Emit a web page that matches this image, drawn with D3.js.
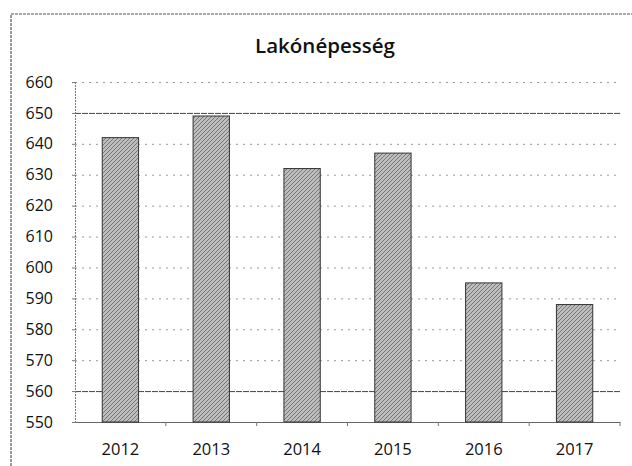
<!DOCTYPE html>
<html>
<head>
<meta charset="utf-8">
<script src="https://cdn.jsdelivr.net/npm/d3@7"></script>
<style>
  body { margin: 0; background: #fff; }
  svg { display: block; }
</style>
</head>
<body>
<div id="chart"></div>
<script>
"use strict";

// data ************************************************************
var years = ["2012", "2013", "2014", "2015", "2016", "2017"];
var population = [642, 649, 632, 637, 595, 588];
var yTicks = [550, 560, 570, 580, 590, 600, 610, 620, 630, 640, 650, 660];
var chartTitle = "Lakónépesség";

// sizes ************************************************************
var width = 632, height = 466;
var plot = { left: 75, right: 620, top: 82, bottom: 422 };
var font = "'Open Sans', 'DejaVu Sans', sans-serif";

var svg = d3.select("#chart").append("svg")
  .attr("width", width)
  .attr("height", height);

// grainy fill like the scanned bars
var defs = svg.append("defs");
var pat = defs.append("pattern")
  .attr("id", "grain")
  .attr("width", 4).attr("height", 4)
  .attr("patternUnits", "userSpaceOnUse");
pat.append("rect").attr("width", 4).attr("height", 4).attr("fill", "#bdbdbd");
pat.append("path").attr("d", "M0,4 L4,0 M-1,1 L1,-1 M3,5 L5,3")
  .attr("stroke", "#777").attr("stroke-width", 1);

// outer frame (only top + left survive the scan)
svg.append("path")
  .attr("d", "M11," + height + " L11,14 L" + width + ",14")
  .attr("fill", "none")
  .attr("stroke", "#555")
  .attr("stroke-width", 1.2)
  .attr("stroke-dasharray", "3,1");

// scales ************************************************************
var x = d3.scaleBand()
  .domain(years)
  .range([plot.left, plot.right])
  .paddingInner(0.6)
  .paddingOuter(0.3);

var y = d3.scaleLinear()
  .domain([550, 660])
  .range([plot.bottom, plot.top]);

// gridlines ************************************************************
svg.append("g")
  .selectAll("line")
  .data(yTicks.filter(function(d) { return d > 550; }))
  .enter()
  .append("line")
  .attr("x1", plot.left)
  .attr("x2", plot.right)
  .attr("y1", function(d) { return y(d) + 0.5; })
  .attr("y2", function(d) { return y(d) + 0.5; })
  .attr("stroke", function(d) { return (d === 650 || d === 560) ? "#444" : "#999"; })
  .attr("stroke-width", 1)
  .attr("stroke-dasharray", function(d) { return (d === 650 || d === 560) ? "6,1" : "2,5"; });

// y axis ************************************************************
var yAxis = svg.append("g")
  .attr("transform", "translate(" + plot.left + ",0)")
  .call(d3.axisLeft(y).tickValues(yTicks).tickSize(3).tickPadding(19));

yAxis.select(".domain").attr("stroke", "#777").attr("stroke-dasharray", "2,1");
yAxis.selectAll(".tick line").attr("stroke", "#777");
yAxis.selectAll("text")
  .attr("font-family", font)
  .attr("font-size", "16px")
  .attr("fill", "#111");

// x axis ************************************************************
var xAxis = svg.append("g")
  .attr("transform", "translate(0," + plot.bottom + ")")
  .call(d3.axisBottom(x).tickSize(0).tickPadding(21));

xAxis.select(".domain").attr("stroke", "#666");
xAxis.selectAll("text")
  .attr("font-family", font)
  .attr("font-size", "16.5px")
  .attr("fill", "#111");

// category separators under the axis
var step = x.step();
svg.append("g")
  .selectAll("line")
  .data(years)
  .enter()
  .append("line")
  .attr("x1", function(d) { return x(d) + x.bandwidth() / 2 + step / 2; })
  .attr("x2", function(d) { return x(d) + x.bandwidth() / 2 + step / 2; })
  .attr("y1", plot.bottom)
  .attr("y2", plot.bottom + 4)
  .attr("stroke", "#777");

// bars ************************************************************
svg.append("g")
  .selectAll("rect")
  .data(population)
  .enter()
  .append("rect")
  .attr("x", function(d, i) { return x(years[i]); })
  .attr("y", function(d) { return y(d); })
  .attr("width", x.bandwidth())
  .attr("height", function(d) { return y(550) - y(d); })
  .attr("fill", "url(#grain)")
  .attr("stroke", "#333")
  .attr("stroke-width", 1);

// title ************************************************************
svg.append("text")
  .attr("x", 325)
  .attr("y", 53)
  .attr("text-anchor", "middle")
  .attr("font-family", font)
  .attr("font-weight", "600")
  .attr("font-size", "20.5px")
  .attr("fill", "#111")
  .text(chartTitle);
</script>
</body>
</html>
